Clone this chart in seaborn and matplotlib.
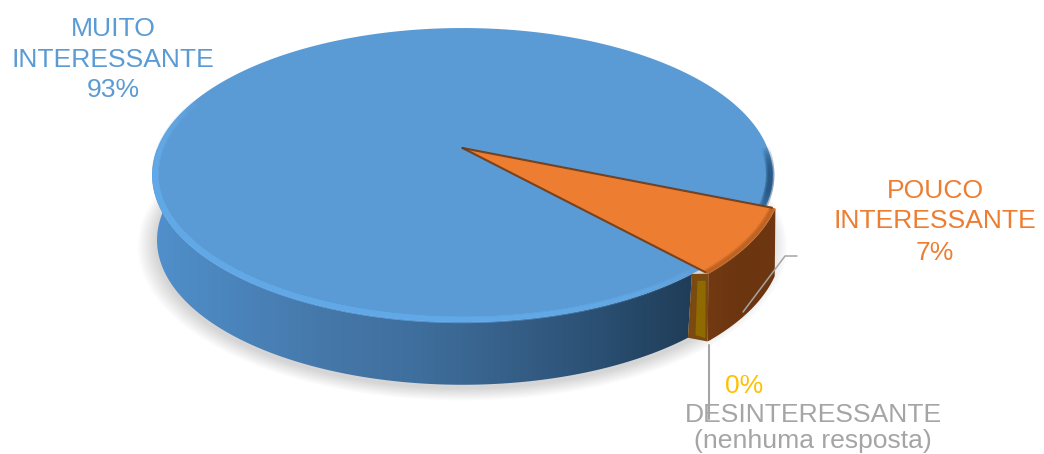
import numpy as np
import matplotlib
matplotlib.use("Agg")
import matplotlib.pyplot as plt
from matplotlib.colors import LinearSegmentedColormap
from matplotlib.patches import Polygon
import seaborn as sns

# Survey answers and their shares
categories = ["MUITO\nINTERESSANTE", "POUCO\nINTERESSANTE", "DESINTERESSANTE\n(nenhuma resposta)"]
shares = [93, 7, 0]
first_slice_angle = -47.7  # degrees, slices run clockwise from here

sns.set_theme(style="white")
plt.rcParams["font.family"] = ["Liberation Sans", "DejaVu Sans"]
palette = sns.color_palette(["#5B9BD5", "#ED7D31", "#A5A5A5"])
ZERO_COLOR = "#FFC000"

W, H = 1044, 454
fig = plt.figure(figsize=(W / 100, H / 100), dpi=100)
ax = fig.add_axes([0, 0, 1, 1])

# Perspective disc: a unit circle seen from above and in front
APEX_X, APEX_Y = 462.5, 148.0
SCALE_X, SCALE_Y, PERSPECTIVE = 305.0, 142.0, 0.1837
THICKNESS = 66.0
BASE_SHRINK = 0.985


def disc(theta_deg, r=1.0, drop=0.0):
    t = np.radians(np.asarray(theta_deg, dtype=float))
    u, v = r * np.cos(t), r * np.sin(t)
    w = 1 + PERSPECTIVE * v
    return np.column_stack([APEX_X + SCALE_X * u / w, APEX_Y - SCALE_Y * v / w + drop])


def arc(a, b, n=160):
    return np.linspace(a, b, n)


def wall(a, b, r=1.0, shrink=BASE_SHRINK, depth=THICKNESS):
    top = disc(arc(a, b), r)
    bottom = disc(arc(a, b), r * shrink, depth)
    return np.vstack([top, bottom[::-1]])


def gradient_fill(points, stops, zorder):
    patch = Polygon(points, closed=True, fc="none", ec="none", zorder=zorder)
    ax.add_patch(patch)
    x0, y0 = points.min(axis=0)
    x1, y1 = points.max(axis=0)
    cmap = LinearSegmentedColormap.from_list("wall", stops)
    img = ax.imshow(np.linspace(0, 1, 256)[None, :], extent=(x0, x1, y1, y0), aspect="auto",
                    cmap=cmap, interpolation="bilinear", zorder=zorder)
    img.set_clip_path(patch)


def soft_stroke(points, color, widths, alpha, zorder):
    for lw in widths:
        ax.plot(points[:, 0], points[:, 1], color=color, lw=lw, alpha=alpha,
                solid_capstyle="butt", zorder=zorder)


def tapered_rim(a, b, r, color, widths, alpha, zorder, steps=10):
    # Overlapping arcs of growing span fade the stroke out at both ends
    mid = (a + b) / 2
    half = (b - a) / 2
    for f in np.linspace(0.3, 1.0, steps):
        soft_stroke(disc(arc(mid - half * f, mid + half * f), r), color, widths, alpha / steps, zorder)


# Slice boundaries derived from the shares
sweeps = [s / sum(shares) * 360 for s in shares]
main_start = first_slice_angle
main_end = main_start - sweeps[0]
minor_start = main_end
minor_end = minor_start - sweeps[1]
minor_a, minor_b = minor_start + 360, minor_end + 360  # upper and lower corner of the small slice
POP = 1.03
MINOR_DEPTH = 68.0
MINOR_SHRINK = 0.998

# Soft ground shadow under the disc
for r in np.linspace(1.045, 0.99, 14):
    ax.add_patch(Polygon(disc(arc(0, 360, 240), r, THICKNESS + 3), closed=True, fc="#000000",
                         ec="none", alpha=0.012, zorder=1))

# Outer walls
gradient_fill(wall(-180, main_start - 2.0),
              ["#5090CC", "#4A83BA", "#4577A8", "#3E6E9C", "#365F88", "#2A4F72", "#1F3D58"], 2)
gradient_fill(wall(minor_b, minor_a, POP, MINOR_SHRINK, MINOR_DEPTH), ["#733A12", "#6B3510", "#6E3711"], 3)

# Thin wall of the empty slice
strip_top = np.vstack([disc([main_start - 2.0], 1.0), disc([main_start], POP)])
strip_low = np.vstack([disc([main_start], POP * MINOR_SHRINK, MINOR_DEPTH),
                       disc([main_start - 2.0], BASE_SHRINK, THICKNESS)])
strip = np.vstack([strip_top, strip_low])
ax.add_patch(Polygon(strip, closed=True, fc="#7A4A10", ec="none", zorder=4))
centre = strip.mean(axis=0)
ax.add_patch(Polygon(centre + (strip - centre) * [0.5, 0.85] + [2, 2], closed=True,
                     fc="#8F6A00", ec="none", zorder=4))

# Top faces
main_top = np.vstack([[disc([0], 0.0)[0]], disc(arc(main_start, main_end, 500))])
ax.add_patch(Polygon(main_top, closed=True, fc=palette[0], ec="none", zorder=5))

# Rounded rim of the big slice: bright along the front, shaded at the right
tapered_rim(-200, main_start + 2, 0.99, "#6FB6F4", [5, 3.5, 2], 1.0, 6, steps=14)
tapered_rim(-26, 0, 0.992, "#2A5884", [6, 4, 2.5], 0.75, 6)

minor_top = np.vstack([[disc([0], 0.0)[0]], disc(arc(minor_a, minor_b), POP)])
ax.add_patch(Polygon(minor_top, closed=True, fc=palette[1], ec="none", zorder=7))
soft_stroke(disc(arc(minor_a, minor_b), POP * 0.992), "#8E4A17", [5, 3.5, 2], 0.2, 8)
for corner in (minor_a, minor_b):
    edge = np.vstack([disc([0], 0.0), disc([corner], POP * 0.99)])
    ax.plot(edge[:, 0], edge[:, 1], color="#6B3510", lw=1.5, alpha=0.85, zorder=8, solid_capstyle="round")

# Leader lines
lead_color = "#A5A5A5"
ax.plot([743, 785, 797], [312, 256, 256], color=lead_color, lw=1.1, zorder=9)
ax.plot([709, 709], [345, 419], color=lead_color, lw=1.5, zorder=9)

# Data labels, placed by baseline
FONT = 19.05


def label(cx, baseline, txt, color):
    ax.text(cx, baseline, txt, color=color, ha="center", va="baseline", fontsize=FONT, zorder=10)


for line, y in zip(categories[0].split("\n") + [f"{shares[0]}%"], (36.5, 67, 97)):
    label(113, y, line, palette[0])
for line, y in zip(categories[1].split("\n") + [f"{shares[1]}%"], (197.5, 228.5, 259.5)):
    label(935, y, line, palette[1])
label(744, 393, f"{shares[2]}%", ZERO_COLOR)
for line, y in zip(categories[2].split("\n"), (422, 448)):
    label(813, y, line, palette[2])

ax.set_xlim(0, W)
ax.set_ylim(H, 0)
ax.axis("off")
fig.savefig("out.png", dpi=100, facecolor="white")
